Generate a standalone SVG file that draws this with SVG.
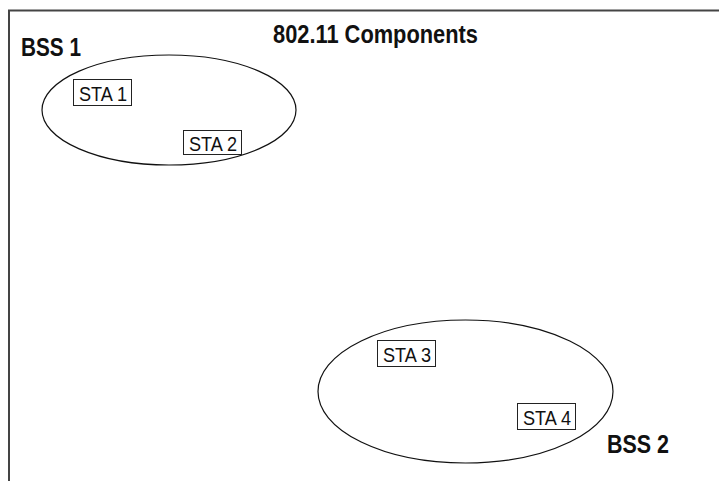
<svg xmlns="http://www.w3.org/2000/svg" width="719" height="481" viewBox="0 0 719 481">
<style>
.frame{fill:none;stroke:#444;stroke-width:2}
.ell{fill:none;stroke:#111;stroke-width:1.2}
.box{fill:#fff;stroke:#222;stroke-width:1}
.sta{font-family:"Liberation Sans",Arial,sans-serif;font-size:21px;fill:#111}
.big{font-family:"Liberation Sans",Arial,sans-serif;font-size:25px;font-weight:bold;fill:#111}
</style>
<rect width="719" height="481" fill="#fff"/>
<path class="frame" d="M9,481 V10.5 H719"/>
<text class="big" x="273" y="43" textLength="205" lengthAdjust="spacingAndGlyphs">802.11 Components</text>
<g id="bss1">
<ellipse class="ell" cx="169" cy="110" rx="127" ry="55"/>
<text class="big" x="21" y="56" textLength="60" lengthAdjust="spacingAndGlyphs">BSS 1</text>
</g>
<g id="sta1">
<rect class="box" x="73.5" y="79.5" width="58" height="26"/>
<text class="sta" x="79" y="100.5" textLength="48" lengthAdjust="spacingAndGlyphs">STA 1</text>
</g>
<g id="sta2">
<rect class="box" x="183.5" y="130.5" width="58" height="24"/>
<text class="sta" x="189" y="150.5" textLength="48" lengthAdjust="spacingAndGlyphs">STA 2</text>
</g>
<g id="bss2">
<ellipse class="ell" cx="465.5" cy="391.5" rx="147.5" ry="71.5"/>
<text class="big" x="607" y="453" textLength="62" lengthAdjust="spacingAndGlyphs">BSS 2</text>
</g>
<g id="sta3">
<rect class="box" x="377.5" y="340.5" width="58" height="26"/>
<text class="sta" x="383" y="361.5" textLength="48" lengthAdjust="spacingAndGlyphs">STA 3</text>
</g>
<g id="sta4">
<rect class="box" x="517.5" y="403.5" width="58" height="26"/>
<text class="sta" x="523" y="424.5" textLength="48" lengthAdjust="spacingAndGlyphs">STA 4</text>
</g>
<g id="connectors"></g>
</svg>
